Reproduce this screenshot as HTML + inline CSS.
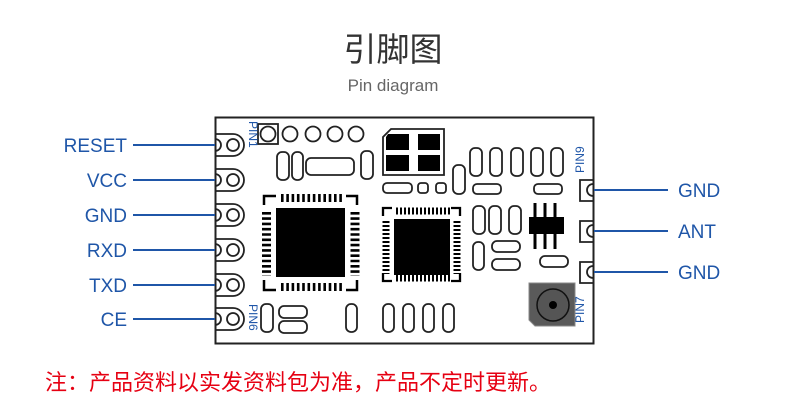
<!DOCTYPE html>
<html><head><meta charset="utf-8"><style>
html,body{margin:0;padding:0;background:#fff;}
svg{display:block;}
.lbl{font-family:"Liberation Sans",sans-serif;font-size:19px;fill:#1f56a8;}
.pin{font-family:"Liberation Sans",sans-serif;font-size:12px;fill:#1f56a8;}
</style></head><body>
<svg width="790" height="410" viewBox="0 0 790 410" xmlns="http://www.w3.org/2000/svg">
<text x="393" y="61" text-anchor="middle" font-family="'Noto Sans CJK SC',sans-serif" font-size="33" fill="#333">引脚图</text>
<text x="393" y="91" text-anchor="middle" font-family="'Liberation Sans',sans-serif" font-size="17" fill="#666">Pin diagram</text>

<rect x="215.5" y="117.5" width="378" height="226" fill="#fff" stroke="#222" stroke-width="2"/>

<g stroke="#1f56a8" stroke-width="2">
<line x1="133" y1="145" x2="215" y2="145"/><line x1="133" y1="180" x2="215" y2="180"/>
<line x1="133" y1="215" x2="215" y2="215"/><line x1="133" y1="250" x2="215" y2="250"/>
<line x1="133" y1="285" x2="215" y2="285"/><line x1="133" y1="319" x2="215" y2="319"/>
<line x1="594" y1="190" x2="668" y2="190"/><line x1="594" y1="231" x2="668" y2="231"/>
<line x1="594" y1="272" x2="668" y2="272"/>
</g>
<g class="lbl" text-anchor="end">
<text x="127" y="152">RESET</text><text x="127" y="187">VCC</text><text x="127" y="222">GND</text>
<text x="127" y="257">RXD</text><text x="127" y="292">TXD</text><text x="127" y="326">CE</text>
</g>
<g class="lbl"><text x="678" y="197">GND</text><text x="678" y="238">ANT</text><text x="678" y="279">GND</text></g>

<g fill="none" stroke="#222" stroke-width="1.8">
<path d="M215,134 H233 A11,11 0 0 1 233,156 H215 M215,139 A6,6 0 0 1 215,151"/><circle cx="233" cy="145" r="6"/>
<path d="M215,169 H233 A11,11 0 0 1 233,191 H215 M215,174 A6,6 0 0 1 215,186"/><circle cx="233" cy="180" r="6"/>
<path d="M215,204 H233 A11,11 0 0 1 233,226 H215 M215,209 A6,6 0 0 1 215,221"/><circle cx="233" cy="215" r="6"/>
<path d="M215,239 H233 A11,11 0 0 1 233,261 H215 M215,244 A6,6 0 0 1 215,256"/><circle cx="233" cy="250" r="6"/>
<path d="M215,274 H233 A11,11 0 0 1 233,296 H215 M215,279 A6,6 0 0 1 215,291"/><circle cx="233" cy="285" r="6"/>
<path d="M215,308 H233 A11,11 0 0 1 233,330 H215 M215,313 A6,6 0 0 1 215,325"/><circle cx="233" cy="319" r="6"/>
<path d="M593,180 H580 V201 H593 M593,184 A6,6 0 0 0 593,196"/>
<path d="M593,221 H580 V242 H593 M593,225 A6,6 0 0 0 593,237"/>
<path d="M593,262 H580 V283 H593 M593,266 A6,6 0 0 0 593,278"/>
<rect x="258" y="124" width="20" height="20"/>
<circle cx="268" cy="134" r="7.5"/><circle cx="290" cy="134" r="7.5"/><circle cx="313" cy="134" r="7.5"/><circle cx="335" cy="134" r="7.5"/><circle cx="356" cy="134" r="7.5"/>
<rect x="277" y="152" width="12" height="28" rx="5"/><rect x="292" y="152" width="11" height="28" rx="5"/>
<rect x="306" y="158" width="48" height="17" rx="5"/><rect x="361" y="151" width="12" height="28" rx="5"/>
<rect x="261" y="304" width="12" height="28" rx="5"/>
<rect x="279" y="306" width="28" height="12" rx="5"/><rect x="279" y="321" width="28" height="12" rx="5"/>
<rect x="346" y="304" width="11" height="28" rx="5"/>
<rect x="383" y="304" width="11" height="28" rx="5"/><rect x="403" y="304" width="11" height="28" rx="5"/>
<rect x="423" y="304" width="11" height="28" rx="5"/><rect x="443" y="304" width="11" height="28" rx="5"/>
<path d="M391,129 H444 V175 H383 V137 Z"/>
<rect x="383" y="183" width="29" height="10" rx="4"/><rect x="418" y="183" width="10" height="10" rx="3"/><rect x="436" y="183" width="10" height="10" rx="3"/>
<rect x="453" y="165" width="12" height="29" rx="5"/>
<rect x="470" y="148" width="12" height="28" rx="5"/><rect x="490" y="148" width="12" height="28" rx="5"/>
<rect x="511" y="148" width="12" height="28" rx="5"/><rect x="531" y="148" width="12" height="28" rx="5"/>
<rect x="551" y="148" width="12" height="28" rx="5"/>
<rect x="473" y="184" width="28" height="10" rx="4"/><rect x="534" y="184" width="28" height="10" rx="4"/>
<rect x="473" y="206" width="12" height="28" rx="5"/><rect x="489" y="206" width="12" height="28" rx="5"/><rect x="509" y="206" width="12" height="28" rx="5"/>
<rect x="473" y="242" width="11" height="28" rx="5"/>
<rect x="492" y="241" width="28" height="11" rx="5"/><rect x="492" y="259" width="28" height="11" rx="5"/>
<rect x="540" y="256" width="28" height="11" rx="5"/>
</g>
<g fill="#000">
<path d="M388,134 H409 V150 H386 V137 Z"/><rect x="418" y="134" width="22" height="16"/>
<rect x="386" y="155" width="23" height="16"/><rect x="418" y="155" width="22" height="16"/>
</g>
<rect x="529" y="217" width="35" height="17" fill="#000"/>
<g stroke="#000" stroke-width="3"><line x1="535" y1="203" x2="535" y2="217"/><line x1="545" y1="203" x2="545" y2="217"/><line x1="555" y1="203" x2="555" y2="217"/>
<line x1="535" y1="234" x2="535" y2="249"/><line x1="545" y1="234" x2="545" y2="249"/><line x1="555" y1="234" x2="555" y2="249"/></g>
<path d="M529,283 H575 V326 H535 L529,320 Z" fill="#5a5a5a" stroke="#888" stroke-width="1"/>
<circle cx="553" cy="305" r="16" fill="#555" stroke="#111" stroke-width="1.5"/><circle cx="553" cy="305" r="4" fill="#000"/>

<rect x="276" y="208" width="69" height="69" fill="#000"/>
<g stroke="#000" stroke-width="8" stroke-dasharray="2.6 2.7">
<line x1="281" y1="198" x2="344" y2="198"/><line x1="281" y1="287" x2="344" y2="287"/>
</g>
<g stroke="#000" stroke-width="9" stroke-dasharray="2.6 2.7">
<line x1="266.5" y1="212" x2="266.5" y2="276"/><line x1="355" y1="212" x2="355" y2="276"/>
</g>
<g fill="none" stroke="#000" stroke-width="2.5">
<path d="M264,205 V196 H276"/><path d="M346,196 H357 V205"/><path d="M264,280 V290 H276"/><path d="M346,290 H357 V280"/>
</g>
<rect x="394" y="219" width="56" height="56" fill="#000"/>
<g stroke="#000" stroke-width="7" stroke-dasharray="2 2">
<line x1="396" y1="211" x2="450" y2="211"/><line x1="396" y1="278" x2="450" y2="278"/>
<line x1="386" y1="221" x2="386" y2="274"/><line x1="457" y1="221" x2="457" y2="274"/>
</g>
<g fill="none" stroke="#000" stroke-width="2.3">
<path d="M383,216 V208 H392"/><path d="M451,208 H460 V216"/><path d="M383,273 V281 H392"/><path d="M451,281 H460 V273"/>
</g>

<text class="pin" transform="translate(249,121) rotate(90)">PIN1</text>
<text class="pin" transform="translate(249,304) rotate(90)">PIN6</text>
<text class="pin" transform="translate(584,173) rotate(-90)">PIN9</text>
<text class="pin" transform="translate(584,323) rotate(-90)">PIN7</text>

<text x="45" y="390" font-family="'Noto Sans CJK SC',sans-serif" font-size="22" fill="#e60012">注：产品资料以实发资料包为准，产品不定时更新。</text>
</svg>
</body></html>
